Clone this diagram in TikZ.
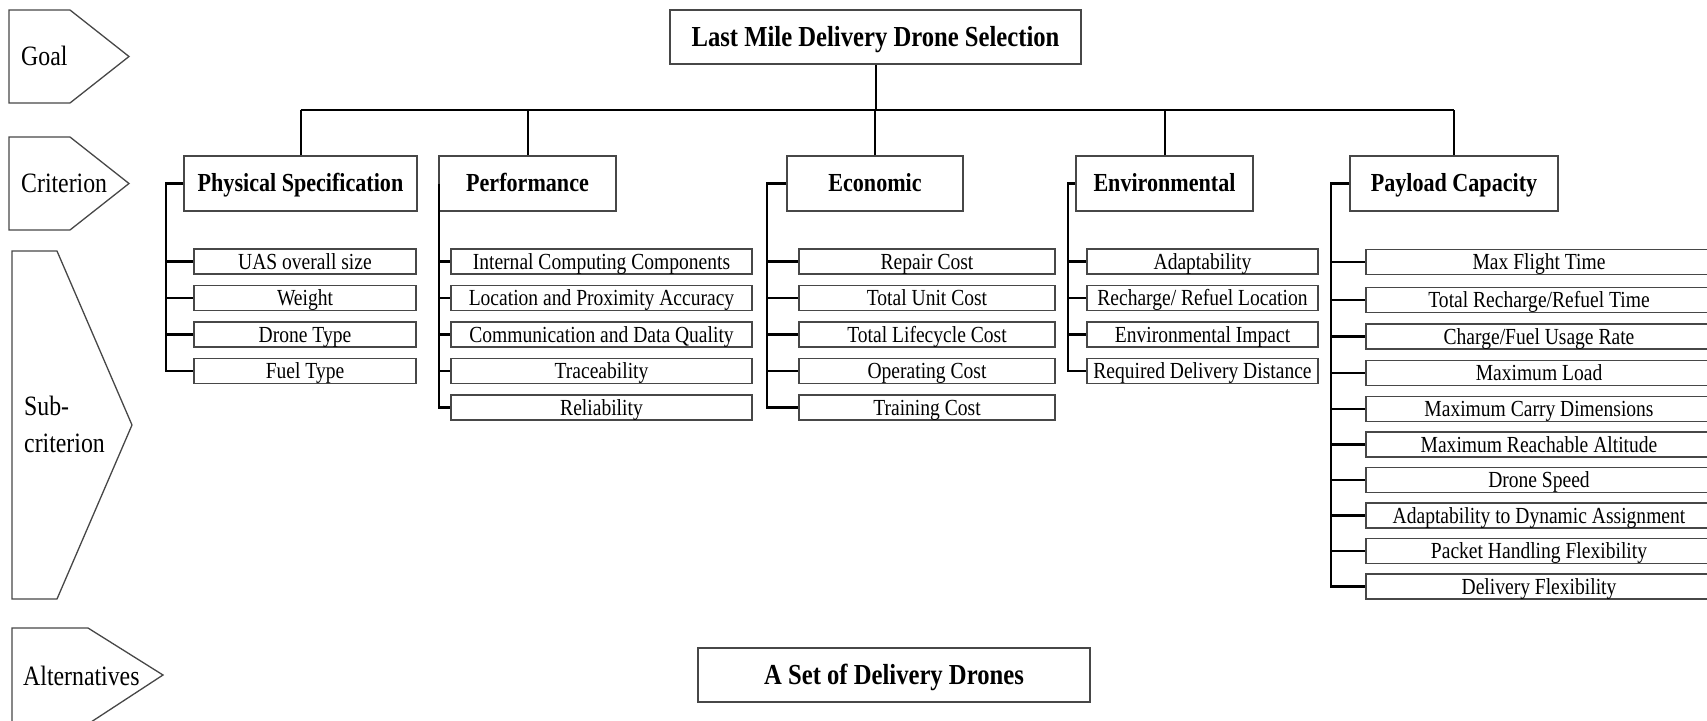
\documentclass[tikz,border=0pt]{standalone}
\usepackage{fontspec}
\setmainfont{Liberation Serif}[FakeStretch=0.85]
\begin{document}
\begin{tikzpicture}[x=1pt,y=-1pt,
 box/.style={draw=black!72, line width=1.5pt, inner sep=0pt, align=center},
 crit/.style={box, minimum height=55pt, font=\fontsize{26}{28}\selectfont\bfseries, text height=15pt, text depth=0pt},
 sub/.style={box, line width=1.4pt, minimum height=25pt, font=\fontsize{23}{25}\selectfont, text height=17pt, text depth=2pt},
 big/.style={box, minimum height=54pt, font=\fontsize{29}{31}\selectfont\bfseries, text height=18pt, text depth=0pt},
 level/.style={draw=black!72, line width=1.3pt, line join=miter},
 lvltext/.style={anchor=base west, inner sep=0pt, font=\fontsize{28}{30}\selectfont},
 bus/.style={line width=2pt, black},
 brk/.style={line width=2.4pt, black, line join=miter}]
\useasboundingbox (0,0) rectangle (1707,720);
\clip (0,0) rectangle (1707,720);

% level markers
\draw[level] (9,10) -- (70,10) -- (129,56.5) -- (70,103) -- (9,103) -- cycle;
\node[lvltext] (lgoal) at (21,65) {Goal};
\draw[level] (9,137) -- (70,137) -- (129,183.5) -- (70,230) -- (9,230) -- cycle;
\node[lvltext] (lcrit) at (21,192.5) {Criterion};
\draw[level] (12,251) -- (57,251) -- (132,425) -- (57,599) -- (12,599) -- cycle;
\node[lvltext] (lsuba) at (24,415) {Sub-};
\node[lvltext] (lsubb) at (24,452) {criterion};
\draw[level] (12,724) -- (12,628) -- (88,628) -- (163,675) -- (88,724);
\node[lvltext] (lalt) at (23,685) {Alternatives};

% goal and alternatives
\node[big, minimum width=411pt] (goal) at (875.5,37) {Last Mile Delivery Drone Selection};
\node[big, minimum width=392pt] (alt) at (894,675) {A Set of Delivery Drones};

% criteria
\node[crit, minimum width=233pt] (phys) at (300.5,183.5) {Physical Specification};
\node[crit, minimum width=177pt] (perf) at (527.5,183.5) {Performance};
\node[crit, minimum width=176pt] (econ) at (875,183.5) {Economic};
\node[crit, minimum width=177pt] (env) at (1164.5,183.5) {Environmental};
\node[crit, minimum width=208pt] (pay) at (1454,183.5) {Payload Capacity};

% sub-criteria: physical
\node[sub, minimum width=222pt] (p1) at (305,261.5) {UAS overall size};
\node[sub, minimum width=222pt] (p2) at (305,298) {Weight};
\node[sub, minimum width=222pt] (p3) at (305,334.5) {Drone Type};
\node[sub, minimum width=222pt] (p4) at (305,371) {Fuel Type};
% performance
\node[sub, minimum width=301pt] (f1) at (601.5,261.5) {Internal Computing Components};
\node[sub, minimum width=301pt] (f2) at (601.5,298) {Location and Proximity Accuracy};
\node[sub, minimum width=301pt] (f3) at (601.5,334.5) {Communication and Data Quality};
\node[sub, minimum width=301pt] (f4) at (601.5,371) {Traceability};
\node[sub, minimum width=301pt] (f5) at (601.5,407.5) {Reliability};
% economic
\node[sub, minimum width=256pt] (e1) at (927,261.5) {Repair Cost};
\node[sub, minimum width=256pt] (e2) at (927,298) {Total Unit Cost};
\node[sub, minimum width=256pt] (e3) at (927,334.5) {Total Lifecycle Cost};
\node[sub, minimum width=256pt] (e4) at (927,371) {Operating Cost};
\node[sub, minimum width=256pt] (e5) at (927,407.5) {Training Cost};
% environmental
\node[sub, minimum width=231pt] (v1) at (1202.5,261.5) {Adaptability};
\node[sub, minimum width=231pt] (v2) at (1202.5,298) {Recharge/ Refuel Location};
\node[sub, minimum width=231pt] (v3) at (1202.5,334.5) {Environmental Impact};
\node[sub, minimum width=231pt] (v4) at (1202.5,371) {Required Delivery Distance};
% payload
\node[sub, minimum width=346pt] (c1) at (1539,262) {Max Flight Time};
\node[sub, minimum width=346pt] (c2) at (1539,300) {Total Recharge/Refuel Time};
\node[sub, minimum width=346pt] (c3) at (1539,336.5) {Charge/Fuel Usage Rate};
\node[sub, minimum width=346pt] (c4) at (1539,373) {Maximum Load};
\node[sub, minimum width=346pt] (c5) at (1539,409) {Maximum Carry Dimensions};
\node[sub, minimum width=346pt] (c6) at (1539,444.5) {Maximum Reachable Altitude};
\node[sub, minimum width=346pt] (c7) at (1539,480) {Drone Speed};
\node[sub, minimum width=346pt] (c8) at (1539,515.5) {Adaptability to Dynamic Assignment};
\node[sub, minimum width=346pt] (c9) at (1539,551) {Packet Handling Flexibility};
\node[sub, minimum width=346pt] (c10) at (1539,586.5) {Delivery Flexibility};

% bus
\coordinate (bus) at (0,110);
\draw[bus] (goal.south) -- (goal.south |- bus);
\draw[bus] (phys.north |- bus) -- (pay.north |- bus);
\foreach \c in {phys,perf,econ,env,pay} \draw[bus] (\c.north) -- (\c.north |- bus);

% brackets
\coordinate (bp) at (166,0);
\coordinate (bf) at (439,0);
\coordinate (be) at (767,0);
\coordinate (bv) at (1068,0);
\coordinate (bc) at (1331,0);
\draw[brk] (phys.west) -- (phys.west -| bp) -- (bp |- p4.west) -- (p4.west);
\foreach \i in {1,2,3} \draw[brk] (bp |- p\i.west) -- (p\i.west);
\draw[brk] (perf.west -| bf) -- (bf |- f5.west) -- (f5.west);
\foreach \i in {1,2,3,4} \draw[brk] (bf |- f\i.west) -- (f\i.west);
\draw[brk] (econ.west) -- (econ.west -| be) -- (be |- e5.west) -- (e5.west);
\foreach \i in {1,2,3,4} \draw[brk] (be |- e\i.west) -- (e\i.west);
\draw[brk] (env.west) -- (env.west -| bv) -- (bv |- v4.west) -- (v4.west);
\foreach \i in {1,2,3} \draw[brk] (bv |- v\i.west) -- (v\i.west);
\draw[brk] (pay.west) -- (pay.west -| bc) -- (bc |- c10.west) -- (c10.west);
\foreach \i in {1,...,9} \draw[brk] (bc |- c\i.west) -- (c\i.west);
\end{tikzpicture}
\end{document}
